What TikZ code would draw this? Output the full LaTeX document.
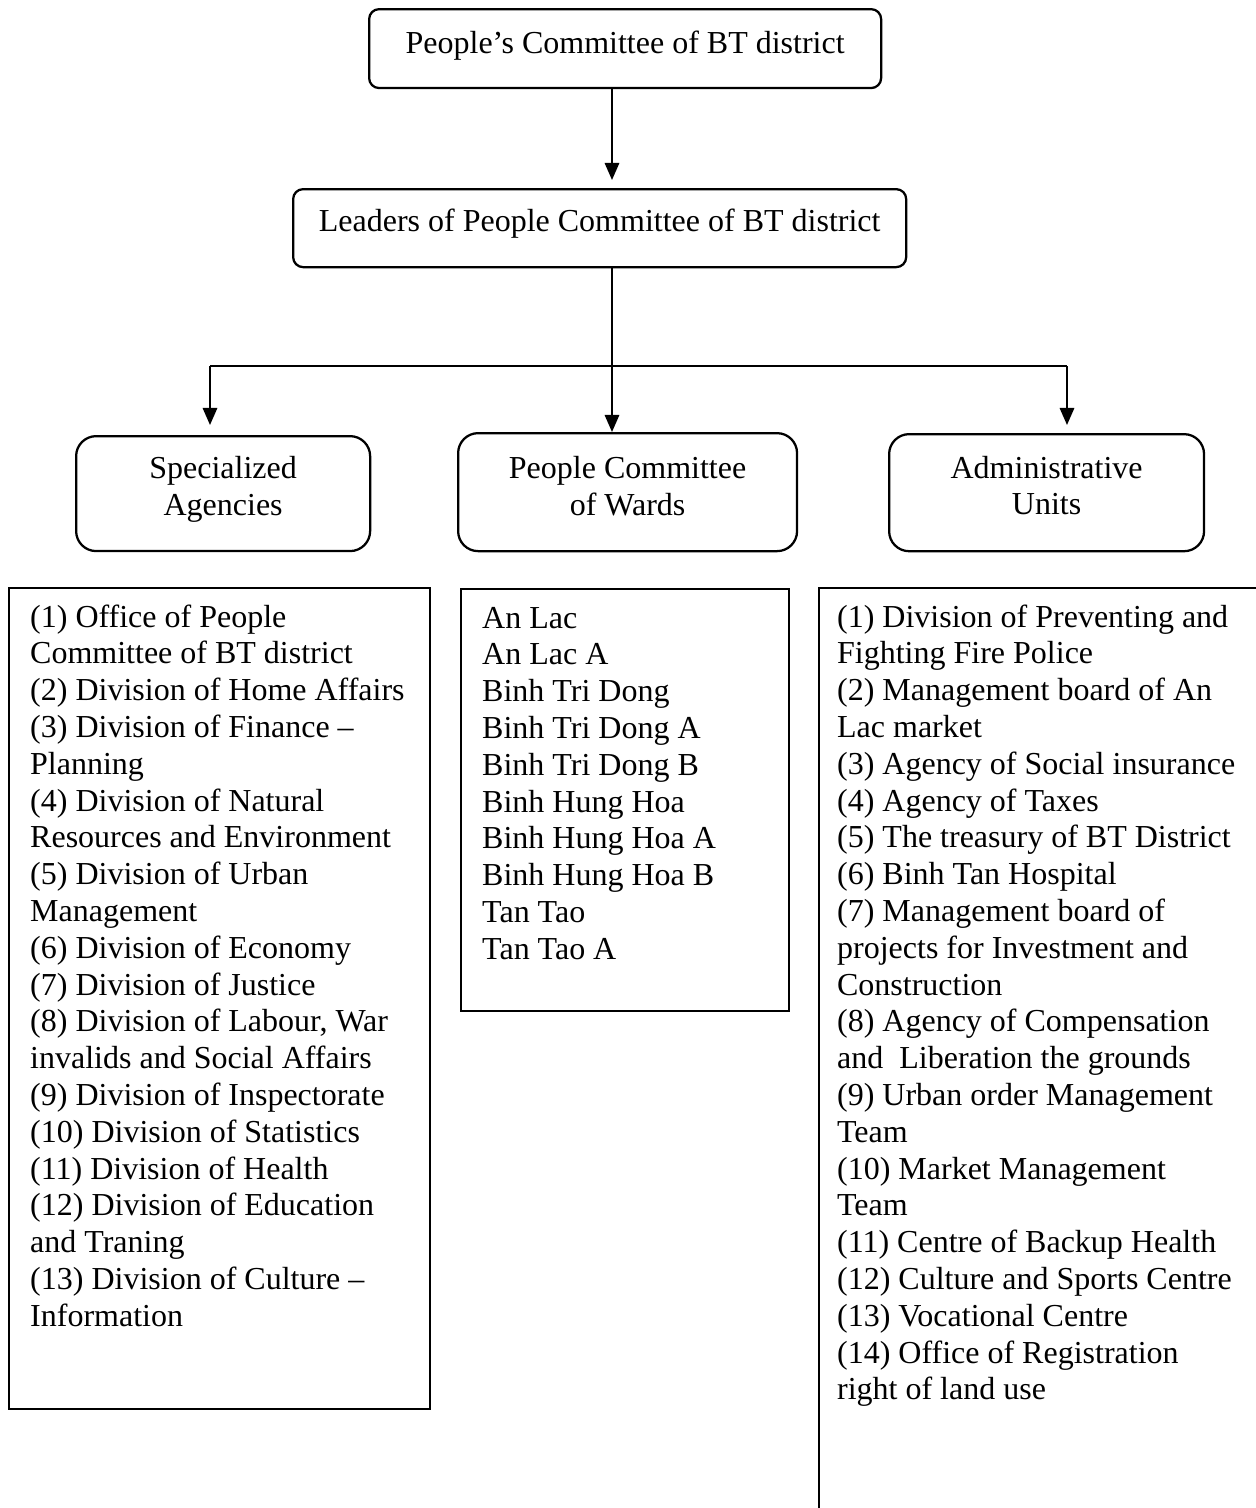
\documentclass[tikz,border=0pt]{standalone}
\usepackage{fontspec}
\setmainfont{Liberation Serif}
\usetikzlibrary{arrows.meta}

\begin{document}
\begin{tikzpicture}[
    x=0.375pt, y=-0.375pt,
    font=\fontsize{12}{13.8}\selectfont,
    every node/.style={execute at begin node={\spaceskip=3pt\relax}},
    headbox/.style={draw, rounded corners=3.75pt, line width=0.85pt, anchor=north west,
        align=flush center, inner xsep=0pt, text height=9pt},
    unitbox/.style={draw, rounded corners=7.5pt, line width=0.85pt, anchor=north west,
        align=flush center, inner xsep=0pt, text height=9pt},
    listbox/.style={draw, line width=0.85pt, anchor=north west, align=flush left,
        inner ysep=6pt, text height=8.6pt},
    link/.style={line width=0.75pt},
    arrow/.style={link, -{Triangle[length=6.4pt, width=5.4pt]}},
]
    \useasboundingbox (0,0) rectangle (1256,1508);
    \clip (0,0) rectangle (1256,1508);

    % Head of the district
    \node[headbox, text width=192pt, inner ysep=7.5pt, text depth=5.6pt] (top) at (368,8)
        {People’s Committee of BT district};
    \node[headbox, text width=229.9pt, inner ysep=6.75pt, text depth=6.75pt] (lead) at (292,188)
        {Leaders of People Committee of BT district};

    % Three branches
    \node[unitbox, text width=110.25pt, inner ysep=7pt, text depth=20.1pt] (spec) at (75,435)
        {Specialized\\ Agencies};
    \node[unitbox, text width=127.1pt, inner ysep=7.9pt, text depth=19.45pt] (wards) at (457,432)
        {People Committee\\ of Wards};
    \node[unitbox, text width=118.1pt, inner ysep=7.5pt, text depth=19.9pt] (units) at (888,433)
        {Administrative\\ Units};

    % Connectors
    \coordinate (trunk) at (612,366);
    \coordinate (lfork) at (210,366);
    \coordinate (rfork) at (1067,366);
    \draw[arrow, shorten >=3pt] (top.south -| trunk) -- (lead.north -| trunk);
    \draw[link] (lead.south -| trunk) -- (trunk);
    \draw[link] (lfork) -- (rfork);
    \draw[arrow] (trunk) -- (wards.north -| trunk);
    \draw[arrow, shorten >=3.75pt] (lfork) -- (spec.north -| lfork);
    \draw[arrow, shorten >=3pt] (rfork) -- (units.north -| rfork);

    % Lists
    \node[listbox, inner xsep=7.9pt, text width=142.1pt, text depth=287.3pt] (agencylist) at (8,587)
        {(1) Office of People\\
         Committee of BT district\\
         (2) Division of Home Affairs\\
         (3) Division of Finance –\\
         Planning\\
         (4) Division of Natural\\
         Resources and Environment\\
         (5) Division of Urban\\
         Management\\
         (6) Division of Economy\\
         (7) Division of Justice\\
         (8) Division of Labour, War\\
         invalids and Social Affairs\\
         (9) Division of Inspectorate\\
         (10) Division of Statistics\\
         (11) Division of Health\\
         (12) Division of Education\\
         and Traning\\
         (13) Division of Culture –\\
         Information};
    \node[listbox, inner xsep=7.9pt, text width=107.2pt, text depth=137.65pt] (wardlist) at (460,588)
        {An Lac\\
         An Lac A\\
         Binh Tri Dong\\
         Binh Tri Dong A\\
         Binh Tri Dong B\\
         Binh Hung Hoa\\
         Binh Hung Hoa A\\
         Binh Hung Hoa B\\
         Tan Tao\\
         Tan Tao A};
    \node[listbox, inner xsep=6.75pt, text width=163.5pt, text depth=344.3pt] (unitlist) at (818,587)
        {(1) Division of Preventing and\\
         Fighting Fire Police\\
         (2) Management board of An\\
         Lac market\\
         (3) Agency of Social insurance\\
         (4) Agency of Taxes\\
         (5) The treasury of BT District\\
         (6) Binh Tan Hospital\\
         (7) Management board of\\
         projects for Investment and\\
         Construction\\
         (8) Agency of Compensation\\
         and\ \ Liberation the grounds\\
         (9) Urban order Management\\
         Team\\
         (10) Market Management\\
         Team\\
         (11) Centre of Backup Health\\
         (12) Culture and Sports Centre\\
         (13) Vocational Centre\\
         (14) Office of Registration\\
         right of land use};
\end{tikzpicture}
\end{document}
